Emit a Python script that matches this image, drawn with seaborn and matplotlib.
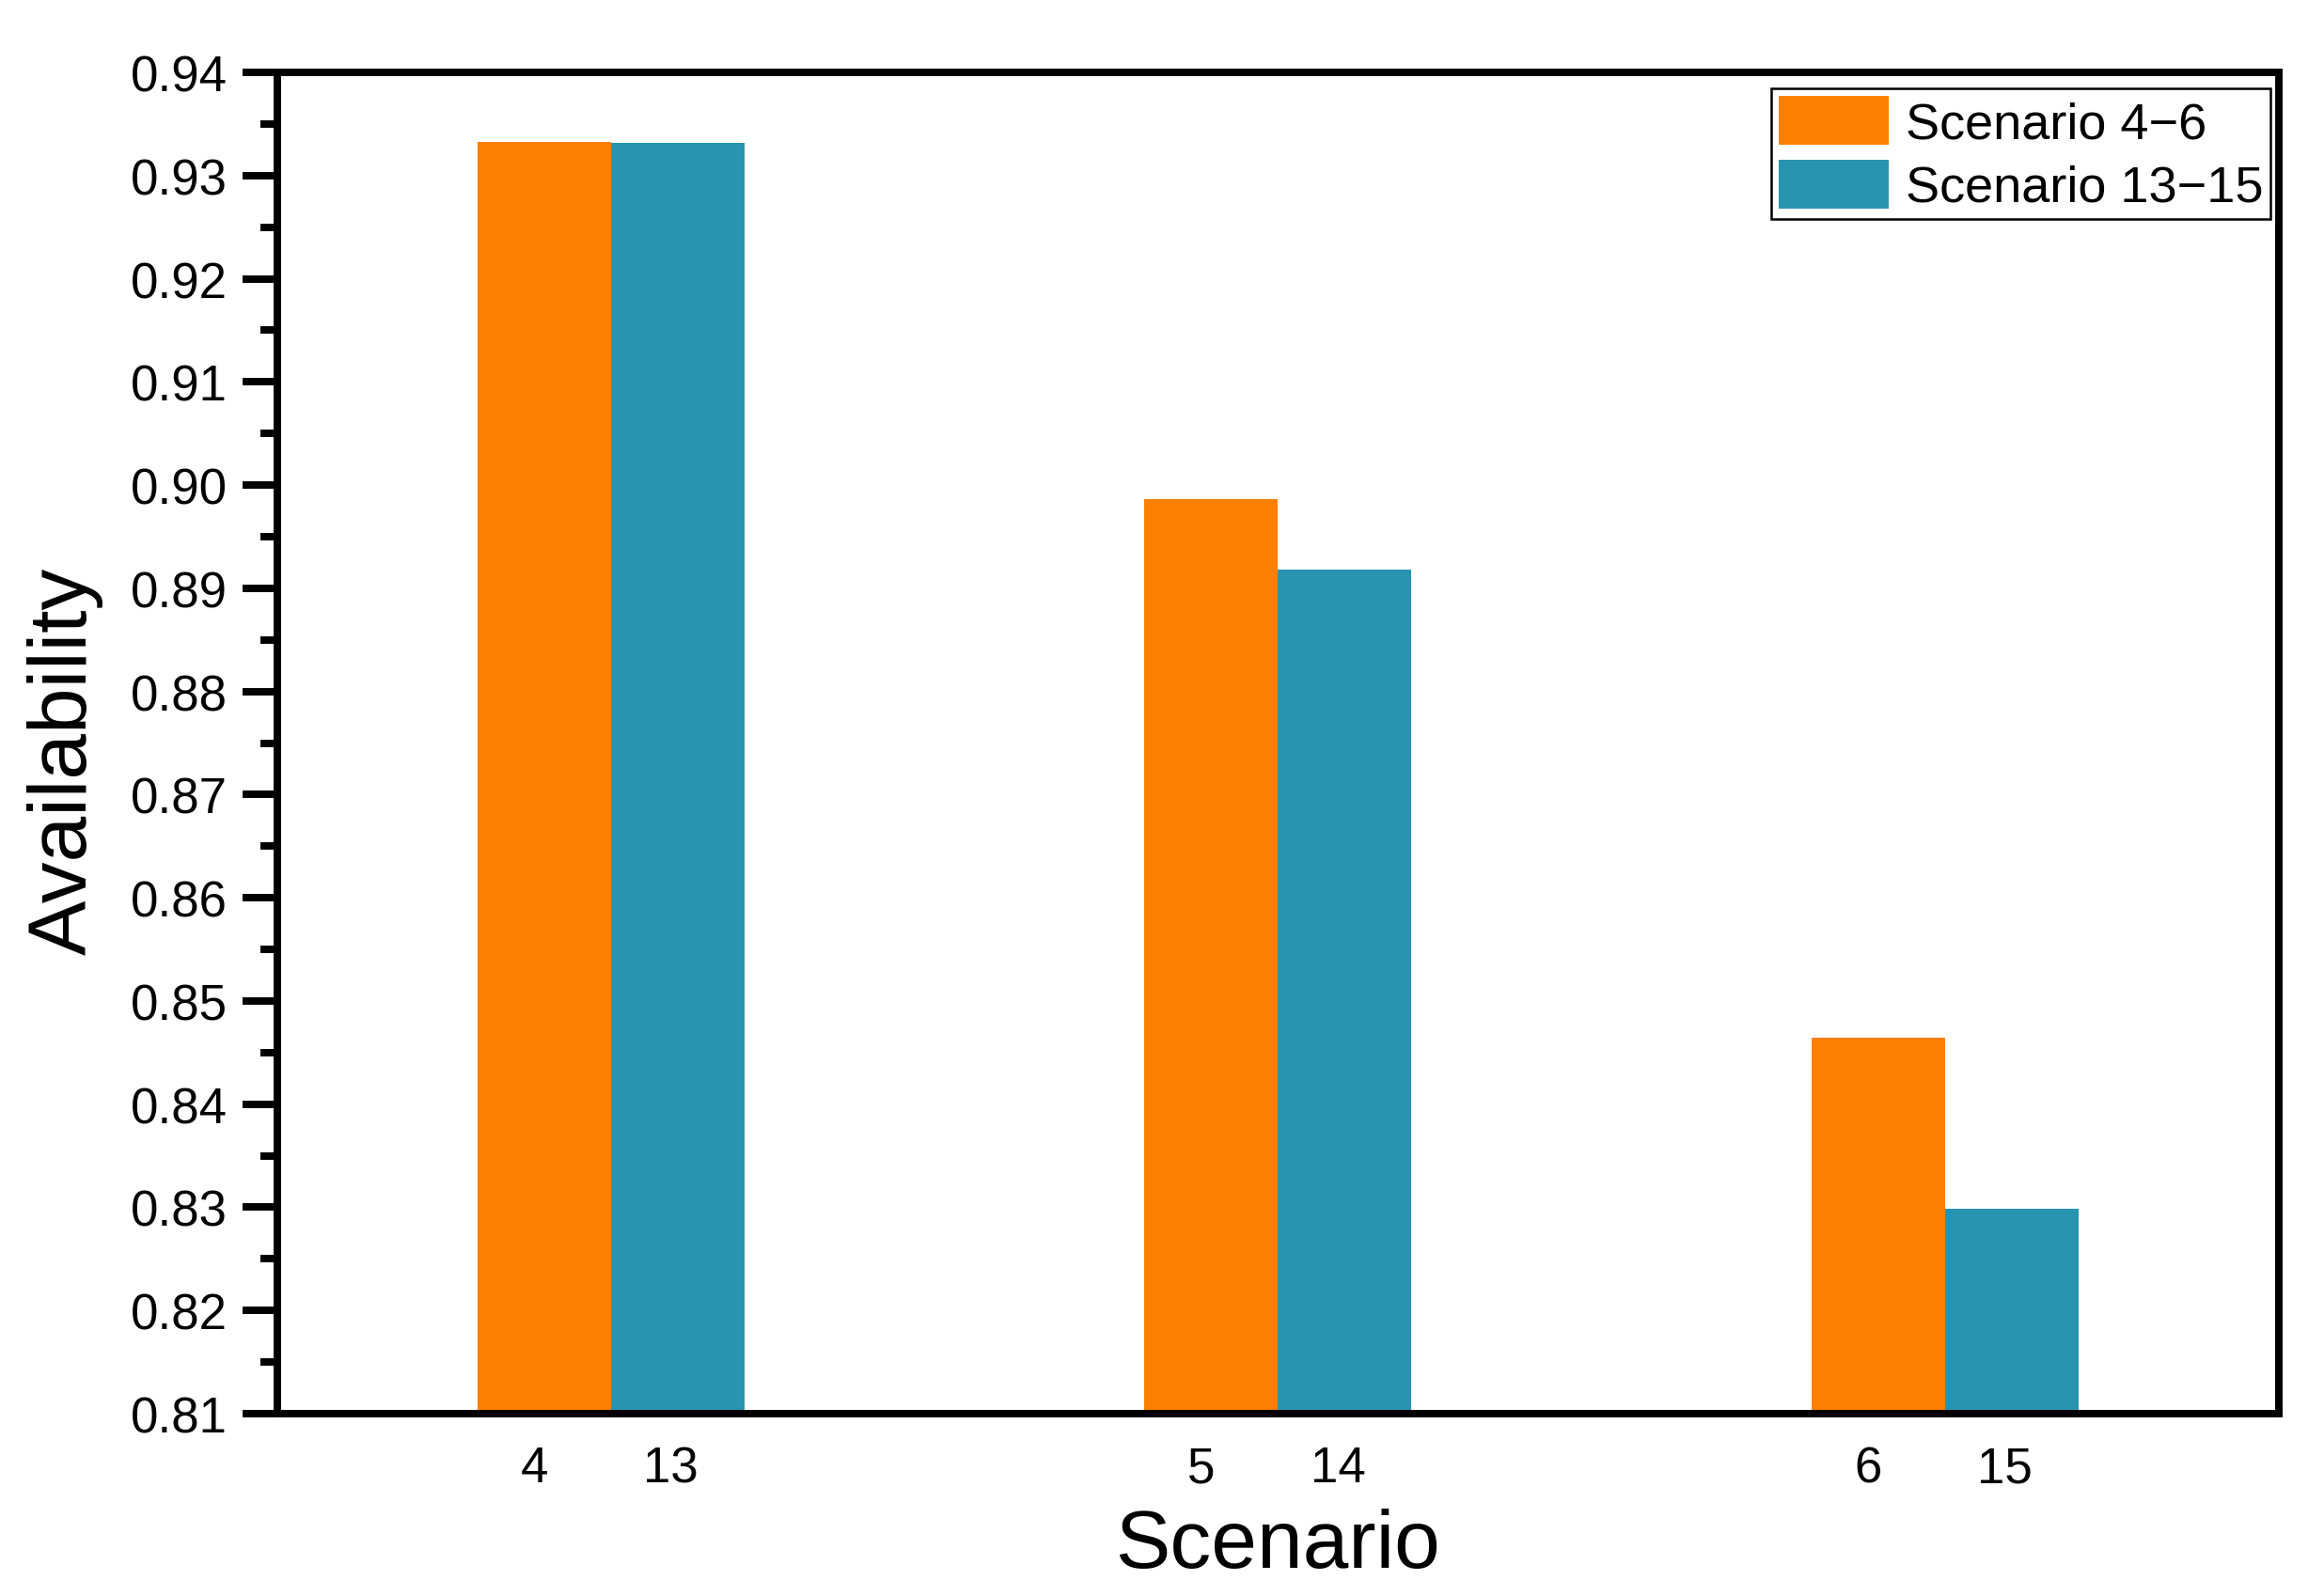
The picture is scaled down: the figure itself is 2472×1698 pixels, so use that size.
import matplotlib

matplotlib.use("Agg")
import matplotlib.pyplot as plt
import pandas as pd
import seaborn as sns
from matplotlib.ticker import FormatStrFormatter, MultipleLocator

# values
groups = ["A", "B", "C"]
series = ["Scenario 4\u22126", "Scenario 13\u221215"]
first_values = [0.9333, 0.8986, 0.8464]
second_values = [0.9332, 0.8918, 0.8299]
first_labels = ["4", "5", "6"]
second_labels = ["13", "14", "15"]
colors = ["#FF8000", "#2894B0"]

frame = pd.DataFrame(
    {
        "group": groups * 2,
        "series": [series[0]] * 3 + [series[1]] * 3,
        "value": first_values + second_values,
    }
)

sns.set_theme(style="white")
plt.rcParams["font.family"] = ["Liberation Sans", "DejaVu Sans"]
plt.rcParams["text.color"] = "black"
plt.rcParams["axes.labelcolor"] = "black"
plt.rcParams["xtick.color"] = "black"
plt.rcParams["ytick.color"] = "black"

fig = plt.figure(figsize=(8.243, 5.663), dpi=300)
ax = fig.add_axes([0.1193, 0.1142, 0.8608, 0.8399])
sns.barplot(
    data=frame,
    x="group",
    y="value",
    hue="series",
    palette=colors,
    width=0.4,
    saturation=1,
    linewidth=0,
    ax=ax,
)

ax.set_ylim(0.81, 0.94)
ax.set_xlim(-0.5, 2.5)
ax.yaxis.set_major_locator(MultipleLocator(0.01))
ax.yaxis.set_minor_locator(MultipleLocator(0.005))
ax.yaxis.set_major_formatter(FormatStrFormatter("%.2f"))

positions = list(range(len(groups)))
tick_pos = [p - 0.115 for p in positions] + [p + 0.09 for p in positions]
ax.set_xticks(tick_pos)
ax.set_xticklabels(first_labels + second_labels)

ax.tick_params(axis="x", which="both", length=0, pad=8, labelsize=12.7, colors="black")
ax.tick_params(axis="y", which="major", length=8.8, width=1.9, direction="out",
               left=True, labelsize=12.7, pad=4, colors="black")
ax.tick_params(axis="y", which="minor", length=4.4, width=1.9, direction="out",
               left=True, colors="black")
for spine in ax.spines.values():
    spine.set_visible(True)
    spine.set_color("black")
    spine.set_linewidth(1.9)

ax.set_xlabel("Scenario", fontsize=21, labelpad=4, color="black")
ax.set_ylabel("Availability", fontsize=21, labelpad=7, color="black")
ax.yaxis.label.set_y(0.487)

legend = ax.legend(
    loc="upper right",
    bbox_to_anchor=(0.996, 0.988),
    borderaxespad=0,
    fontsize=13,
    frameon=True,
    fancybox=False,
    edgecolor="black",
    framealpha=1,
    handlelength=2.15,
    handleheight=1.1,
    handletextpad=0.33,
    labelspacing=0.22,
    borderpad=0.15,
)
legend.get_frame().set_linewidth(0.6)
for text in legend.get_texts():
    text.set_color("black")

fig.savefig("out.png", dpi=300)
plt.close(fig)
